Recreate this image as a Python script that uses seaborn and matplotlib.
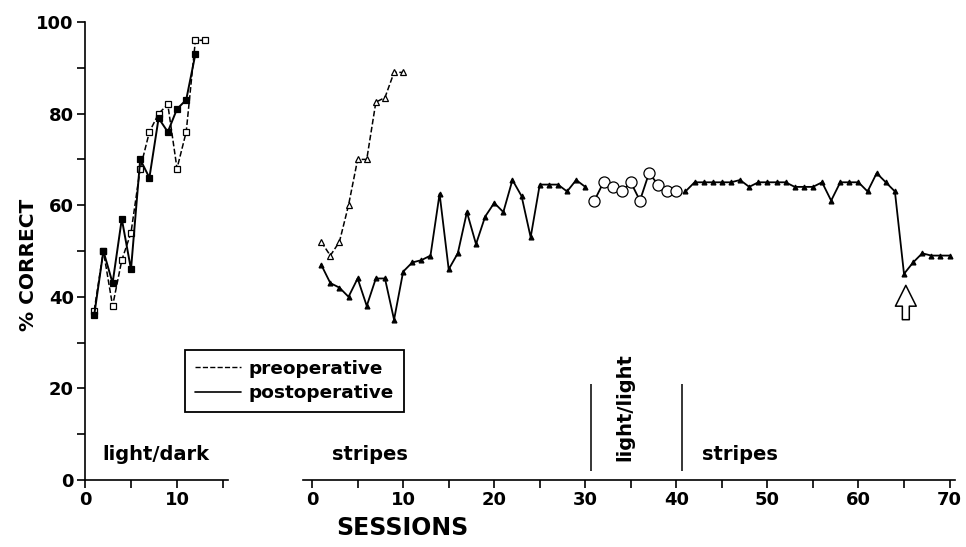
import matplotlib
matplotlib.use("Agg")
import matplotlib.pyplot as plt
import seaborn as sns
from matplotlib.lines import Line2D

# light/dark discrimination
ld_pre_sessions = list(range(1, 14))
ld_pre = [37, 50, 38, 48, 54, 68, 76, 80, 82, 68, 76, 96, 96]
ld_post_sessions = list(range(1, 13))
ld_post = [36, 50, 43, 57, 46, 70, 66, 79, 76, 81, 83, 93]

# stripes discrimination
st_pre_sessions = list(range(1, 11))
st_pre = [52, 49, 52, 60, 70, 70, 82.5, 83.5, 89, 89]
st_post_sessions = list(range(1, 31))
st_post = [47, 43, 42, 40, 44, 38, 44, 44, 35, 45.5, 47.5, 48, 49, 62.5, 46,
           49.5, 58.5, 51.5, 57.5, 60.5, 58.5, 65.5, 62, 53, 64.5, 64.5, 64.5, 63, 65.5, 64]

# light/light interlude
ll_sessions = list(range(31, 41))
ll_post = [61, 65, 64, 63, 65, 61, 67, 64.5, 63, 63]

# stripes again
st2_sessions = list(range(41, 71))
st2_post = [63, 65, 65, 65, 65, 65, 65.5, 64, 65, 65, 65, 65, 64, 64, 64, 65, 61,
            65, 65, 65, 63, 67, 65, 63, 45, 47.5, 49.5, 49, 49, 49]

phase_bounds = [30.6, 40.6]
arrow_session = 65.2


def trace(ax, x, y, dashed, marker, ms, face, lw=1.1):
    sns.lineplot(x=x, y=y, ax=ax, color="black", errorbar=None,
                 linestyle="--" if dashed else "-", linewidth=lw,
                 marker=marker, markersize=ms, markerfacecolor=face,
                 markeredgecolor="black", markeredgewidth=0.9, clip_on=False)


def main():
    sns.set_theme(style="ticks")
    plt.rcParams["font.family"] = ["DejaVu Sans"]
    plt.rcParams["font.weight"] = "bold"
    plt.rcParams["text.color"] = "black"

    fig = plt.figure(figsize=(9.66, 5.47), dpi=100)
    ax_l = fig.add_axes([85 / 966, 67 / 547, 142.6 / 966, 458 / 547])
    ax_r = fig.add_axes([303 / 966, 67 / 547, 652 / 966, 458 / 547])

    trace(ax_l, ld_pre_sessions, ld_pre, True, "s", 4.5, "white")
    trace(ax_l, ld_post_sessions, ld_post, False, "s", 4, "black", lw=1.4)

    trace(ax_r, st_pre_sessions, st_pre, True, "^", 4.5, "white")
    trace(ax_r, st_post_sessions, st_post, False, "^", 3.5, "black", lw=1.3)
    trace(ax_r, ll_sessions, ll_post, False, "o", 8, "white", lw=1.3)
    trace(ax_r, st2_sessions, st2_post, False, "^", 3.5, "black", lw=1.3)

    for ax in (ax_l, ax_r):
        ax.set_ylim(0, 100)
        ax.set_xlabel("")
        ax.set_ylabel("")
        ax.set_facecolor("white")
        for s in ("top", "right"):
            ax.spines[s].set_visible(False)
        for s in ("left", "bottom"):
            ax.spines[s].set_linewidth(1.2)
            ax.spines[s].set_color("black")
        ax.tick_params(axis="both", length=6, width=1.2, color="black",
                       labelsize=13, labelcolor="black", pad=2)

    ax_l.set_xlim(0, 15.5)
    ax_l.set_xticks([0, 5, 10, 15])
    ax_l.set_xticklabels(["0", "", "10", ""])
    ax_l.set_yticks(range(0, 101, 10))
    ax_l.set_yticklabels([str(v) if v % 20 == 0 else "" for v in range(0, 101, 10)])

    ax_r.set_xlim(-1, 70.6)
    ax_r.set_xticks(range(0, 71, 5))
    ax_r.set_xticklabels([str(v) if v % 10 == 0 else "" for v in range(0, 71, 5)])
    ax_r.spines["left"].set_visible(False)
    ax_r.set_yticks([])

    txt = dict(fontsize=14, fontweight="bold", color="black")
    ax_l.text(1.9, 5.5, "light/dark", ha="left", va="center", **txt)
    ax_r.text(2.2, 5.5, "stripes", ha="left", va="center", **txt)
    ax_r.text(42.8, 5.5, "stripes", ha="left", va="center", **txt)
    ax_r.text(34.3, 16, "light/light", ha="center", va="center", rotation=90, **txt)
    ax_r.vlines(phase_bounds, 2, 21, color="black", linewidth=1.1)

    ax_r.annotate("", xy=(arrow_session, 42.5), xytext=(arrow_session, 35),
                  arrowprops=dict(arrowstyle="simple,head_width=0.6,head_length=0.6,tail_width=0.2",
                                  fc="white", ec="black", lw=1.1,
                                  shrinkA=0, shrinkB=0, mutation_scale=25))

    handles = [Line2D([], [], color="black", linestyle="--", linewidth=1.0),
               Line2D([], [], color="black", linewidth=1.2)]
    leg = fig.legend(handles, ["preoperative", "postoperative"], loc="center",
                     bbox_to_anchor=((187 + 402) / 2 / 966, 1 - (348 + 414) / 2 / 547),
                     frameon=True, fancybox=False, edgecolor="black", framealpha=1,
                     prop=dict(weight="bold", size=13.3), handlelength=2.5,
                     handletextpad=0.4, borderpad=0.55, labelspacing=0.35,
                     labelcolor="black")
    leg.get_frame().set_linewidth(1.3)

    fig.text(29 / 966, 1 - 265 / 547, "% CORRECT", rotation=90, ha="center",
             va="center", fontsize=14.5, fontweight="bold", color="black")
    fig.text(402 / 966, 1 - 528 / 547, "SESSIONS", ha="center", va="center",
             fontsize=17, fontweight="bold", color="black")

    fig.savefig("out.png", dpi=100, facecolor="white")


if __name__ == "__main__":
    main()
